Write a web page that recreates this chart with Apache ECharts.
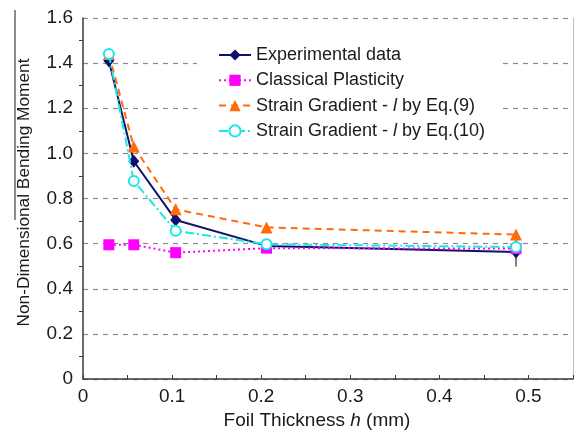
<!DOCTYPE html>
<html>
<head>
<meta charset="utf-8">
<script src="https://cdn.jsdelivr.net/npm/echarts@6/dist/echarts.min.js"></script>
<style>
  html, body { margin: 0; padding: 0; background: #fff; }
  #chart { width: 575px; height: 430px; }
</style>
</head>
<body>
<div id="chart"></div>
<script>
// Foil thickness h (mm)
const thickness = [0.029, 0.057, 0.104, 0.206, 0.486];

// Non-dimensional bending moment per data set
const experimental = [1.41, 0.965, 0.705, 0.59, 0.563];
const expError = [0, 0, 0.07, 0, 0.064];
const classical = [0.595, 0.595, 0.56, 0.58, 0.578];
const gradientEq9 = [1.44, 1.03, 0.752, 0.672, 0.64];
const gradientEq10 = [1.44, 0.878, 0.657, 0.597, 0.585];

const seriesNames = [
  'Experimental data',
  'Classical Plasticity',
  'Strain Gradient - l by Eq.(9)',
  'Strain Gradient - l by Eq.(10)'
];

const xTicks = ['0', '0.1', '0.2', '0.3', '0.4', '0.5'];

const FONT = 'Liberation Sans, Arial, sans-serif';
const TEXT = '#1a1a1a';
const pairs = ys => thickness.map((x, i) => [x, ys[i]]);
const italic = size => ({ it: { fontStyle: 'italic', fontFamily: FONT, fontSize: size, color: TEXT } });

const chart = echarts.init(document.getElementById('chart'), null, { renderer: 'canvas' });

const option = {
  animation: false,
  backgroundColor: '#fff',
  textStyle: { fontFamily: FONT },
  grid: { left: 83, right: 2, top: 18, bottom: 51, containLabel: false, outerBoundsMode: 'none' },
  legend: {
    orient: 'vertical',
    left: 197,
    top: 35,
    padding: [11, 15, 6, 21],
    backgroundColor: '#fff',
    itemWidth: 32,
    itemHeight: 14,
    itemGap: 7.3,
    textStyle: { fontFamily: FONT, fontSize: 18, color: TEXT, lineHeight: 18, rich: italic(18) },
    formatter: name => name.replace(' l ', ' {it|l} '),
    data: seriesNames
  },
  xAxis: {
    type: 'value',
    min: 0,
    max: 0.55,
    interval: 0.1,
    name: 'Foil Thickness {it|h} (mm)',
    nameLocation: 'middle',
    nameGap: 31,
    nameTextStyle: {
      fontFamily: FONT, fontSize: 19, color: TEXT, padding: [0, 22, 0, 0],
      rich: italic(19)
    },
    axisLine: { show: true, onZero: false, lineStyle: { color: '#3a3a3a', width: 1.5 } },
    axisTick: { show: true, inside: true, length: 4, lineStyle: { color: '#3a3a3a' } },
    minorTick: { show: true, splitNumber: 2, length: 4, lineStyle: { color: '#3a3a3a' } },
    splitLine: { show: false },
    axisLabel: {
      fontFamily: FONT, fontSize: 19, color: TEXT, margin: 8,
      formatter: v => xTicks.find(t => Math.abs(parseFloat(t) - v) < 1e-9) || ''
    }
  },
  yAxis: [{
    type: 'value',
    min: 0,
    max: 1.6,
    interval: 0.2,
    name: 'Non-Dimensional Bending Moment',
    nameLocation: 'middle',
    nameGap: 50,
    nameTextStyle: { fontFamily: FONT, fontSize: 17.3, color: TEXT, padding: [0, 0, 0, 12] },
    axisLine: { show: true, lineStyle: { color: '#3a3a3a', width: 1.5 } },
    axisTick: { show: false },
    minorTick: { show: true, splitNumber: 2, length: 4, lineStyle: { color: '#3a3a3a' } },
    splitLine: { show: true, lineStyle: { color: '#8a8a8a', type: [5, 5], width: 1.2 } },
    axisLabel: {
      fontFamily: FONT, fontSize: 19, color: TEXT, margin: 10,
      formatter: v => (v === 0 ? '0' : v.toFixed(1))
    }
  }, {
    type: 'value',
    min: 0,
    max: 1.6,
    position: 'right',
    axisLine: { show: true, lineStyle: { color: '#c0c0c0', width: 1 } },
    axisTick: { show: false },
    axisLabel: { show: false },
    splitLine: { show: false }
  }],
  graphic: [{
    type: 'line',
    shape: { x1: 15, y1: 10, x2: 15, y2: 220 },
    style: { stroke: TEXT, lineWidth: 1 }
  }],
  series: [
    {
      name: 'Experimental data (error)',
      type: 'custom',
      z: 1,
      data: thickness.map((x, i) => [x, experimental[i] - expError[i], experimental[i] + expError[i]]),
      renderItem: (params, api) => {
        const lo = api.coord([api.value(0), api.value(1)]);
        const hi = api.coord([api.value(0), api.value(2)]);
        return {
          type: 'line',
          shape: { x1: lo[0], y1: lo[1], x2: hi[0], y2: hi[1] },
          style: { stroke: '#555', lineWidth: 1.5 }
        };
      },
      tooltip: { show: false }
    },
    {
      name: seriesNames[0],
      type: 'line',
      z: 2,
      data: pairs(experimental),
      color: '#10106a',
      symbol: 'diamond',
      symbolSize: [11, 13],
      lineStyle: { color: '#10106a', width: 2 },
      itemStyle: { color: '#10106a' }
    },
    {
      name: seriesNames[1],
      type: 'line',
      z: 3,
      data: pairs(classical),
      color: '#ff00ff',
      symbol: 'rect',
      symbolSize: 11,
      lineStyle: { color: '#ff00ff', width: 2, type: [2, 3] },
      itemStyle: { color: '#ff00ff' }
    },
    {
      name: seriesNames[2],
      type: 'line',
      z: 4,
      data: pairs(gradientEq9),
      color: '#ff6a0a',
      symbol: 'triangle',
      symbolSize: 12,
      lineStyle: { color: '#ff6a0a', width: 2, type: [7, 5] },
      itemStyle: { color: '#ff6a0a' }
    },
    {
      name: seriesNames[3],
      type: 'line',
      z: 5,
      data: pairs(gradientEq10),
      color: '#1ee6e6',
      symbol: 'emptyCircle',
      symbolSize: 10,
      lineStyle: { color: '#1ee6e6', width: 2, type: [9, 3, 2, 3] },
      itemStyle: { color: '#1ee6e6', borderWidth: 1.5 }
    }
  ]
};

chart.setOption(option);
</script>
</body>
</html>
